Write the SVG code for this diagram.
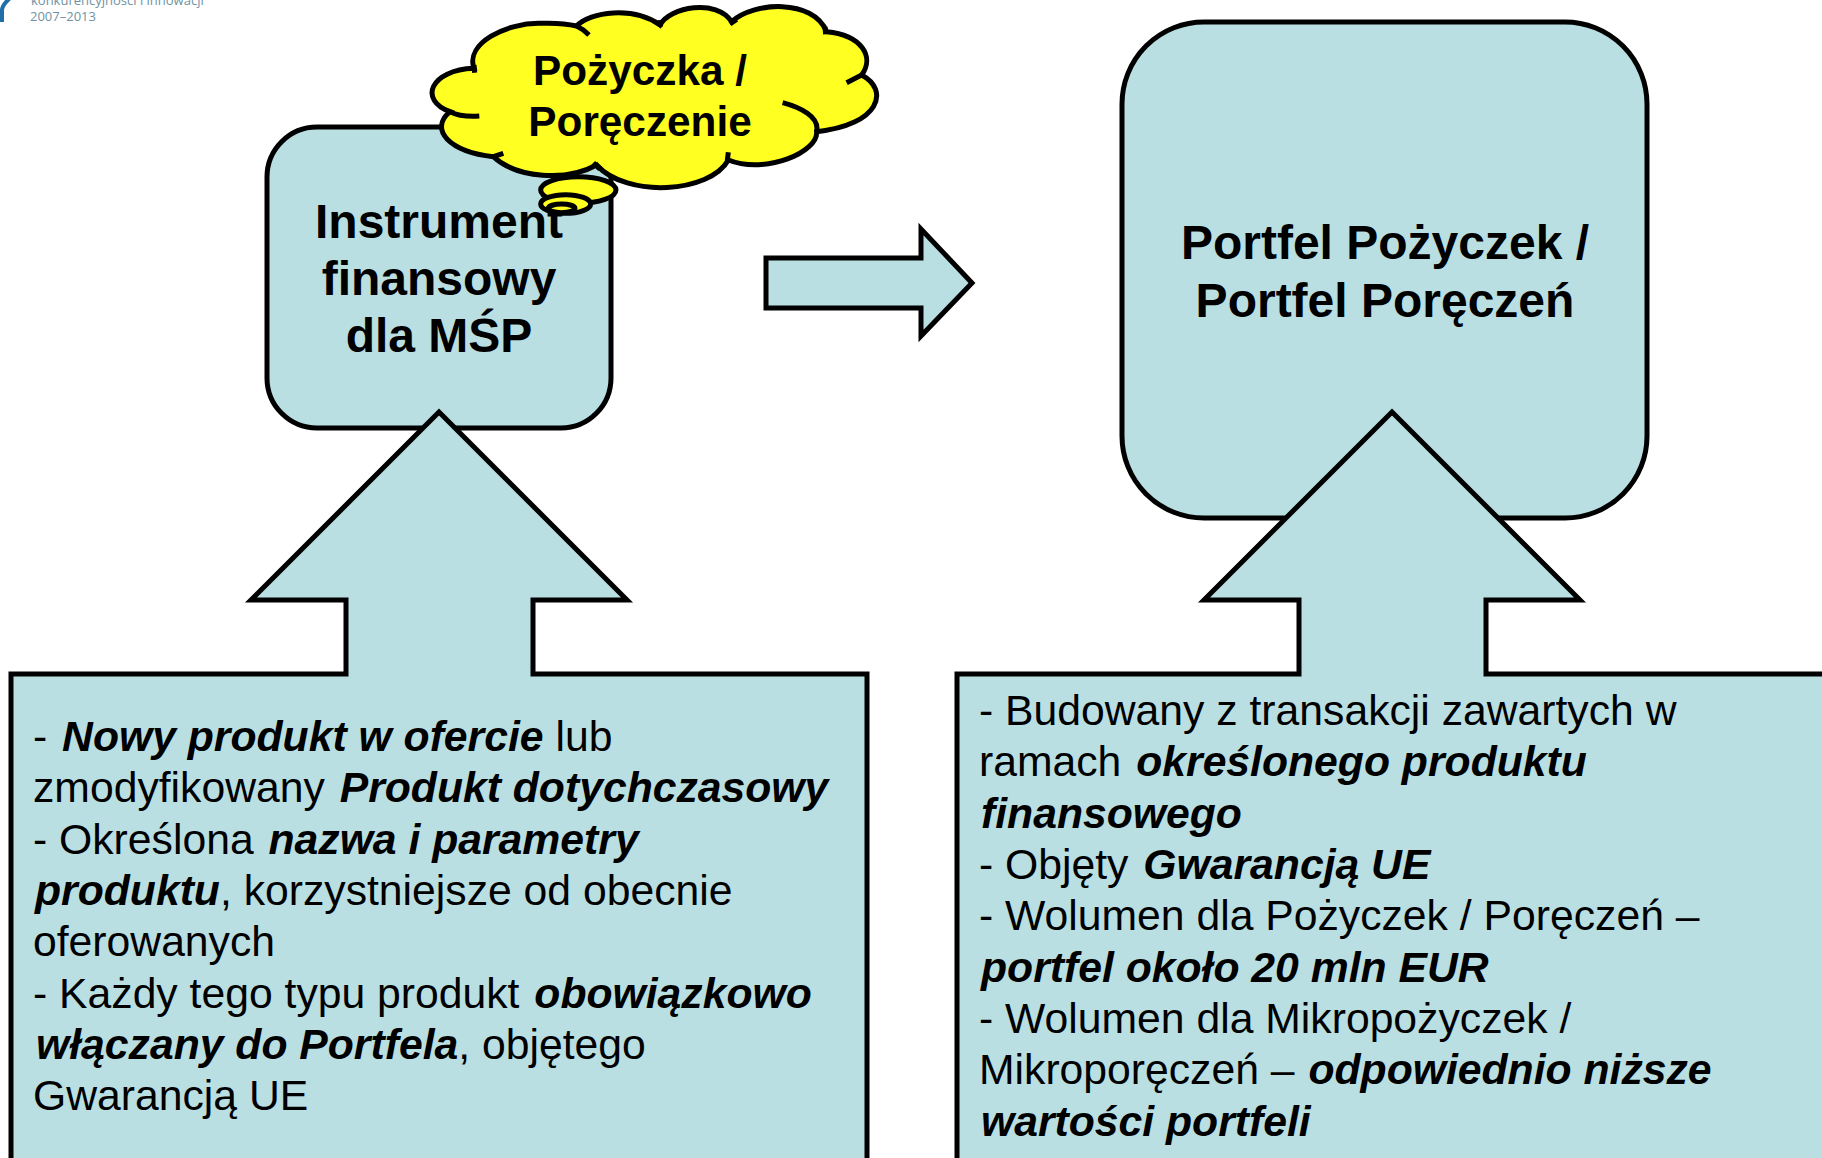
<svg xmlns="http://www.w3.org/2000/svg" width="1822" height="1158" viewBox="0 0 1822 1158">
<style>
text{font-family:"Liberation Sans",Arial,sans-serif;fill:#000}
.s{fill:#B9DFE3;stroke:#000;stroke-width:5;stroke-linejoin:miter}
.t{font-size:48px;font-weight:bold;text-anchor:middle}
.c{font-size:42.3px;font-weight:bold;text-anchor:middle}
.b{font-size:42.7px}
.e{font-weight:bold;font-style:italic}
.y{fill:#FFFF21;stroke:#000;stroke-width:15}
.l{fill:none;stroke:#000;stroke-width:15}
</style>
<rect width="1822" height="1158" fill="#fff"/>
<g id="logo">
<path d="M2 22V10C2 5 6 2 10 -2" fill="none" stroke="#1F6FA8" stroke-width="4"/>
<text x="31" y="5" style="font-family:'Open Sans',sans-serif;font-size:13px;fill:#6F93A3">konkurencyjności i innowacji</text>
<text x="30" y="21" style="font-family:'Open Sans',sans-serif;font-size:13px;fill:#6F93A3">2007–2013</text>
</g>
<g id="node-instrument">
<rect class="s" x="267" y="127" width="344" height="301" rx="50"/>
<text class="t" x="439" y="238">Instrument</text>
<text class="t" x="439" y="295">finansowy</text>
<text class="t" x="439" y="352">dla MŚP</text>
</g>
<g id="node-portfel">
<rect class="s" x="1122" y="22" width="525" height="496" rx="82"/>
<text class="t" x="1385" y="259">Portfel Pożyczek /</text>
<text class="t" x="1385" y="317">Portfel Poręczeń</text>
</g>
<g id="node-opis-instrumentu">
<path class="s" d="M11 1170V674H346V600H251L439 412L627 600H533V674H867V1170Z"/>
<text class="b" x="33" y="751">- <tspan class="e" dx="3">Nowy produkt w ofercie</tspan> lub</text>
<text class="b" x="33" y="802">zmodyfikowany <tspan class="e" dx="3">Produkt dotychczasowy</tspan></text>
<text class="b" x="33" y="854">- Określona <tspan class="e" dx="3">nazwa i parametry</tspan></text>
<text class="b" x="35" y="905"><tspan class="e">produktu</tspan>, korzystniejsze od obecnie</text>
<text class="b" x="33" y="956">oferowanych</text>
<text class="b" x="33" y="1008">- Każdy tego typu produkt <tspan class="e" dx="3">obowiązkowo</tspan></text>
<text class="b" x="36" y="1059"><tspan class="e">włączany do Portfela</tspan>, objętego</text>
<text class="b" x="33" y="1110">Gwarancją UE</text>
</g>
<g id="node-opis-portfela">
<path class="s" d="M957 1170V674H1299V600H1204L1392 412L1580 600H1486V674H1830V1170Z"/>
<text class="b" x="979" y="725">- Budowany z transakcji zawartych w</text>
<text class="b" x="979" y="776">ramach <tspan class="e" dx="3">określonego produktu</tspan></text>
<text class="b" x="981" y="828"><tspan class="e">finansowego</tspan></text>
<text class="b" x="979" y="879">- Objęty <tspan class="e" dx="3">Gwarancją UE</tspan></text>
<text class="b" x="979" y="930">- Wolumen dla Pożyczek / Poręczeń –</text>
<text class="b" x="981" y="982"><tspan class="e">portfel około 20 mln EUR</tspan></text>
<text class="b" x="979" y="1033">- Wolumen dla Mikropożyczek /</text>
<text class="b" x="979" y="1084">Mikroporęczeń – <tspan class="e" dx="2">odpowiednio niższe</tspan></text>
<text class="b" x="981" y="1136"><tspan class="e">wartości portfeli</tspan></text>
</g>
<g id="node-pozyczka">
<g transform="translate(400 0) scale(.3333)">
<path class="y" d="M222 205C195 130 320 68 420 70C470 68 505 72 530 78C570 35 700 18 780 75C810 20 950 -5 995 65C1060 5 1240 -5 1280 95C1385 105 1425 170 1385 225C1470 270 1440 375 1250 395C1255 455 1100 525 985 480C930 580 680 595 590 495C500 545 350 535 280 470C150 455 85 390 150 335C55 300 90 210 222 205Z"/>
<path class="l" d="M222 195L224 218M530 78C545 85 555 93 567 105M780 60L782 80M990 72L1010 58M1275 80L1277 103M1385 225L1340 248M1250 395C1260 350 1200 322 1148 308M985 457L982 482M580 488L600 508M280 470L310 460M150 335C180 350 210 350 238 348"/>
<ellipse class="y" cx="535" cy="570" rx="113" ry="40"/>
<ellipse class="y" cx="497" cy="612" rx="75" ry="28"/>
<ellipse class="y" cx="485" cy="625" rx="40" ry="13"/>
</g>
<text class="c" x="640" y="85">Pożyczka /</text>
<text class="c" x="640" y="136">Poręczenie</text>
</g>
<g id="connectors">
<path class="s" d="M766 258H921V229L972 283L921 336V308H766Z"/>
</g>
</svg>
